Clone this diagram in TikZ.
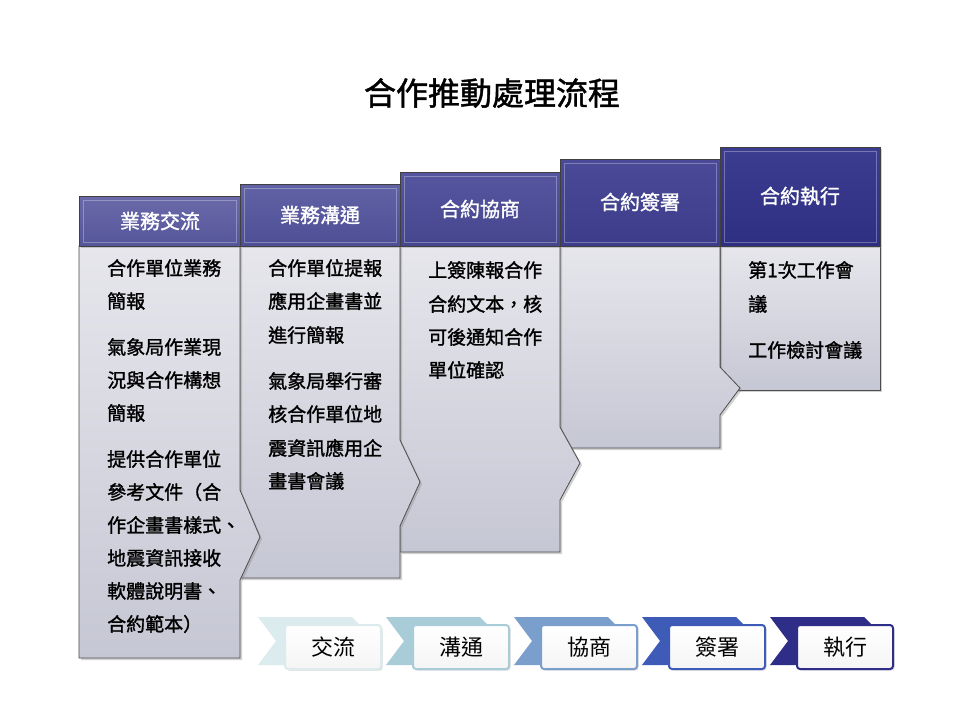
\documentclass[tikz,border=0pt]{standalone}
\usepackage{fontspec}
\newfontfamily\cjk[FakeBold=1.4]{Noto Sans CJK TC}
\newfontfamily\cjkn{Noto Sans CJK TC}
\usetikzlibrary{shadows}
\definecolor{bodytop}{HTML}{E6E6EC}
\definecolor{bodybot}{HTML}{C6C7D4}
\definecolor{hA}{HTML}{6A6AAA}\definecolor{hAb}{HTML}{55559A}
\definecolor{hB}{HTML}{6262A6}\definecolor{hBb}{HTML}{4E4E96}
\definecolor{hC}{HTML}{5656A0}\definecolor{hCb}{HTML}{46468F}
\definecolor{hD}{HTML}{4A4A98}\definecolor{hDb}{HTML}{3C3C8A}
\definecolor{hE}{HTML}{3C3C90}\definecolor{hEb}{HTML}{2E2E82}
\definecolor{cA}{HTML}{DCEBEE}
\definecolor{cB}{HTML}{A8CCD8}
\definecolor{cC}{HTML}{7B9FCC}
\definecolor{cD}{HTML}{3E5BB8}
\definecolor{cE}{HTML}{2E2E88}
\begin{document}
\begin{tikzpicture}[x=1pt,y=-1pt,
  body/.style={draw=black!70,line width=0.8pt,top color=bodytop,bottom color=bodybot,
    drop shadow={shadow xshift=2pt,shadow yshift=-2pt,opacity=0.35}},
  hdr/.style={draw=black!75,line width=0.8pt,drop shadow={shadow xshift=2pt,shadow yshift=-2pt,opacity=0.35}},
  htext/.style={text=white,font=\cjk\fontsize{20}{20}\selectfont},
  btext/.style={anchor=west,font=\cjk\fontsize{19}{19}\selectfont,inner sep=0pt},
  tbox/.style={rounded corners=3pt,line width=2pt,top color=white,bottom color=gray!8,
    minimum width=96pt,minimum height=44pt,font=\cjkn\fontsize{22}{22}\selectfont,
    drop shadow={shadow xshift=1.5pt,shadow yshift=-1.5pt,opacity=0.3}}]
\useasboundingbox[fill=white] (0,0) rectangle (960,720);
\node (title) at (492,93) {\cjk\fontsize{32}{32}\selectfont 合作推動處理流程};
% bodies, right to left
\path[body] (720,246) -- (880,246) -- (880,390) -- (720,390) -- cycle;
\path[body] (560,246) -- (720,246) -- (720,367) -- (740,388) -- (720,415) -- (720,448) -- (560,448) -- cycle;
\path[body] (400,246) -- (560,246) -- (560,427) -- (580,463) -- (560,500) -- (560,552) -- (400,552) -- cycle;
\path[body] (240,246) -- (400,246) -- (400,440) -- (420,482) -- (400,526) -- (400,578) -- (240,578) -- cycle;
\path[body] (79,246) -- (240,246) -- (240,490) -- (260,537) -- (240,580) -- (240,658) -- (79,658) -- cycle;
% headers
\path[hdr,top color=hA,bottom color=hAb] (79,196) rectangle (240,246);
\path[hdr,top color=hB,bottom color=hBb] (240,184) rectangle (400,246);
\path[hdr,top color=hC,bottom color=hCb] (400,172) rectangle (560,246);
\path[hdr,top color=hD,bottom color=hDb] (560,159) rectangle (720,246);
\path[hdr,top color=hE,bottom color=hEb] (720,147) rectangle (880,246);
\foreach \a/\b/\c in {79/196/240,240/184/400,400/172/560,560/159/720,720/147/880}
  \draw[white,opacity=0.3,line width=1pt] (\a+4,\b+4) rectangle (\c-4,242);
\node[htext] (h1) at (160,221) {業務交流};
\node[htext] (h2) at (320,215) {業務溝通};
\node[htext] (h3) at (480,209) {合約協商};
\node[htext] (h4) at (640,202) {合約簽署};
\node[htext] (h5) at (800,196) {合約執行};
% body text
\node[btext] (a1) at (107,268) {合作單位業務};
\node[btext] (a2) at (107,301) {簡報};
\node[btext] (a3) at (107,347) {氣象局作業現};
\node[btext] (a4) at (107,380) {況與合作構想};
\node[btext] (a5) at (107,413) {簡報};
\node[btext] (a6) at (107,459) {提供合作單位};
\node[btext] (a7) at (107,492) {參考文件（合};
\node[btext] (a8) at (107,525) {作企畫書樣式、};
\node[btext] (a9) at (107,558) {地震資訊接收};
\node[btext] (a10) at (107,591) {軟體說明書、};
\node[btext] (a11) at (107,624) {合約範本）};
\node[btext] (b1) at (268,268) {合作單位提報};
\node[btext] (b2) at (268,301) {應用企畫書並};
\node[btext] (b3) at (268,335) {進行簡報};
\node[btext] (b4) at (268,381) {氣象局舉行審};
\node[btext] (b5) at (268,414) {核合作單位地};
\node[btext] (b6) at (268,448) {震資訊應用企};
\node[btext] (b7) at (268,481) {畫書會議};
\node[btext] (c1) at (428,270) {上簽陳報合作};
\node[btext] (c2) at (428,304) {合約文本，核};
\node[btext] (c3) at (428,337) {可後通知合作};
\node[btext] (c4) at (428,370) {單位確認};
\node[btext] (e1) at (748,270) {第1次工作會};
\node[btext] (e2) at (748,304) {議};
\node[btext] (e3) at (748,350) {工作檢討會議};
% bottom chevrons
\foreach \i/\col in {0/cA,1/cB,2/cC,3/cD,4/cE}
  \fill[\col] (258+128*\i,617) -- (352+128*\i,617) -- (376+128*\i,641) -- (352+128*\i,665) -- (258+128*\i,665) -- (276+128*\i,641) -- cycle;
\node[tbox,draw=cA] (k1) at (333,647) {交流};
\node[tbox,draw=cB] (k2) at (461,647) {溝通};
\node[tbox,draw=cC] (k3) at (589,647) {協商};
\node[tbox,draw=cD] (k4) at (717,647) {簽署};
\node[tbox,draw=cE] (k5) at (845,647) {執行};
\end{tikzpicture}
\end{document}
